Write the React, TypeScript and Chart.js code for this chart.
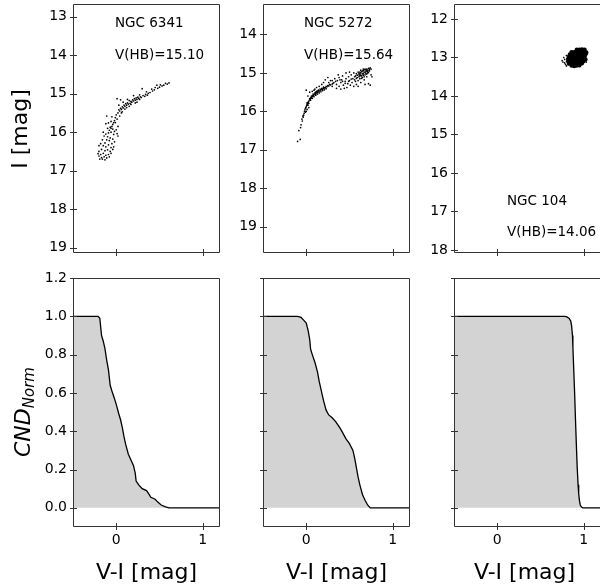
import React, { useEffect, useRef } from 'react';
import { Chart, registerables } from 'chart.js';

Chart.register(...registerables);

const FONT = '"DejaVu Sans", sans-serif';

// ---------- shared axis data ----------
const VI_MIN = -0.5;
const VI_MAX = 1.2;
const VI_TICKS = [0, 1];
const CND_MIN = -0.1;
const CND_MAX = 1.2;
const CND_TICKS = [0, 0.2, 0.4, 0.6, 0.8, 1.0, 1.2];

// ---------- NGC 6341 (top-left) ----------
const RANGE_6341 = [12.67, 19.14];
const TICKS_6341 = [13, 14, 15, 16, 17, 18, 19];
const HB_6341: number[][] = [
  [0.61, 14.72], [0.59, 14.75], [0.57, 14.73], [0.55, 14.78], [0.53, 14.8], [0.51, 14.77], [0.5, 14.83],
  [0.48, 14.86], [0.47, 14.78], [0.45, 14.84], [0.44, 14.9], [0.42, 14.93], [0.41, 14.88], [0.39, 14.97],
  [0.37, 14.99], [0.36, 15.04], [0.34, 15.02], [0.33, 15.07], [0.31, 15.05], [0.3, 14.87], [0.29, 15.1],
  [0.28, 15.08], [0.27, 15.03], [0.26, 15.12], [0.25, 15.09], [0.24, 15.15], [0.23, 15.11], [0.22, 15.17],
  [0.21, 15.13], [0.2, 15.19], [0.19, 15.16], [0.18, 15.22], [0.17, 15.2], [0.16, 15.25], [0.15, 15.18],
  [0.14, 15.27], [0.13, 15.24], [0.12, 15.3], [0.11, 15.26], [0.1, 15.33], [0.09, 15.3], [0.08, 15.37],
  [0.07, 15.34], [0.06, 15.41], [0.05, 15.38], [0.04, 15.45], [0.03, 15.42], [0.02, 15.5], [0.05, 15.16],
  [0.01, 15.13], [0.15, 15.33], [0.1, 15.4], [0.06, 15.5], [0.2, 15.05], [0.24, 15.22],
  [0.0, 15.55], [-0.01, 15.62], [0.01, 15.66], [-0.02, 15.7], [-0.03, 15.75], [-0.04, 15.8], [-0.05, 15.85],
  [-0.06, 15.9], [-0.07, 15.87], [-0.08, 15.95], [-0.11, 15.58], [-0.12, 15.78], [-0.09, 15.76], [-0.04, 15.92],
  [-0.02, 15.98], [0.0, 15.94], [0.01, 16.04], [-0.03, 16.06], [-0.06, 16.0], [-0.09, 16.02], [-0.12, 16.05],
  [-0.14, 16.1], [-0.1, 16.12], [-0.07, 16.15], [-0.04, 16.18], [-0.02, 16.25], [-0.05, 16.3], [-0.08, 16.22],
  [-0.11, 16.2], [-0.13, 16.28], [-0.16, 16.2], [-0.18, 16.3], [-0.2, 16.35], [-0.15, 16.35], [-0.12, 16.38],
  [-0.09, 16.33], [-0.06, 16.4], [-0.03, 16.38], [-0.04, 16.45], [-0.07, 16.5], [-0.1, 16.46], [-0.13, 16.48],
  [-0.17, 16.45], [-0.2, 16.5], [-0.21, 16.56], [-0.18, 16.58], [-0.15, 16.55], [-0.12, 16.6], [-0.09, 16.58],
  [-0.06, 16.55], [-0.08, 16.64], [-0.11, 16.67], [-0.14, 16.64], [-0.17, 16.66], [-0.2, 16.62], [-0.19, 16.7],
  [-0.16, 16.7], [-0.13, 16.72], [-0.05, 15.6], [-0.15, 16.0], [-0.1, 15.9], [0.02, 16.1],
  [0.04, 15.58], [0.07, 15.47], [0.12, 15.36], [0.17, 15.28], [0.22, 15.24], [0.03, 15.3], [0.08, 15.22],
  [0.35, 14.95], [0.27, 15.15], [0.13, 15.15], [-0.01, 15.75], [-0.06, 15.72], [0.02, 15.85],
];
const CND_6341_VI = [-0.5, -0.21, -0.19, -0.17, -0.15, -0.13, -0.11, -0.09, -0.07, -0.05, -0.02, 0.0, 0.03, 0.05, 0.07, 0.09, 0.11, 0.14, 0.17, 0.2, 0.22, 0.23, 0.26, 0.3, 0.35, 0.38, 0.4, 0.45, 0.48, 0.52, 0.57, 0.61, 1.2];
const CND_6341_VAL = [1, 1, 0.99, 0.9, 0.87, 0.83, 0.77, 0.72, 0.64, 0.61, 0.57, 0.54, 0.49, 0.46, 0.42, 0.37, 0.33, 0.28, 0.25, 0.22, 0.18, 0.14, 0.12, 0.1, 0.09, 0.07, 0.055, 0.045, 0.03, 0.015, 0.005, 0, 0];

// ---------- NGC 5272 (top-middle) ----------
const RANGE_5272 = [13.21, 19.68];
const TICKS_5272 = [14, 15, 16, 17, 18, 19];
const HB_5272: number[][] = [
  [-0.1, 16.78], [-0.07, 16.73], [-0.085, 16.5], [-0.065, 16.42], [-0.06, 16.35], [-0.045, 16.25], [-0.05, 16.2],
  [-0.035, 16.15], [-0.03, 16.1], [-0.025, 16.05], [-0.02, 16.0], [-0.015, 15.96], [-0.01, 15.92], [0.0, 15.88],
  [0.005, 15.85], [0.01, 15.82], [0.015, 15.8], [0.02, 15.77], [0.025, 15.75], [0.03, 15.73], [0.04, 15.7],
  [0.045, 15.68], [0.05, 15.66], [0.055, 15.64], [0.06, 15.63], [0.07, 15.61], [0.075, 15.6], [0.08, 15.58],
  [0.09, 15.57], [0.1, 15.55], [0.11, 15.54], [0.12, 15.52], [0.13, 15.5], [0.14, 15.49], [0.15, 15.47],
  [0.16, 15.46], [0.17, 15.44], [0.18, 15.43], [0.19, 15.42], [0.2, 15.4], [0.22, 15.38], [0.24, 15.36],
  [0.26, 15.34], [0.28, 15.31], [0.3, 15.29],
  [0.02, 15.84], [0.03, 15.79], [0.05, 15.71], [0.07, 15.66], [0.09, 15.62], [0.11, 15.58], [0.13, 15.55],
  [0.15, 15.52], [0.17, 15.49], [0.19, 15.46], [0.21, 15.44], [0.23, 15.41], [0.06, 15.6], [0.08, 15.55],
  [0.1, 15.52], [0.12, 15.48], [0.14, 15.45], [0.16, 15.42], [0.18, 15.4], [0.2, 15.37], [0.03, 15.9],
  [-0.01, 16.02], [-0.04, 16.12], [0.0, 16.0], [0.01, 15.95],
  [0.0, 15.45], [0.04, 15.5], [0.07, 15.48], [0.1, 15.42], [0.12, 15.38], [0.15, 15.35], [0.18, 15.3],
  [0.2, 15.25], [0.22, 15.18], [0.25, 15.12], [0.02, 15.6], [0.09, 15.45], [0.26, 15.25], [0.28, 15.2],
  [0.3, 15.2], [0.32, 15.25], [0.33, 15.15], [0.35, 15.3], [0.36, 15.2], [0.38, 15.12], [0.38, 15.35],
  [0.4, 15.25], [0.41, 15.18], [0.42, 15.08], [0.43, 15.32], [0.45, 15.22], [0.46, 15.15], [0.47, 15.38],
  [0.48, 15.28], [0.49, 15.1], [0.5, 15.2], [0.51, 15.32], [0.52, 15.05], [0.53, 15.25], [0.54, 15.15],
  [0.55, 15.35], [0.56, 15.1], [0.57, 15.22], [0.58, 15.02], [0.58, 15.3], [0.59, 15.12], [0.6, 15.2],
  [0.61, 15.05], [0.62, 14.98], [0.62, 15.15], [0.63, 15.25], [0.64, 15.08], [0.65, 14.95], [0.65, 15.12],
  [0.66, 15.02], [0.67, 14.92], [0.67, 15.18], [0.68, 15.05], [0.69, 14.96], [0.7, 14.9], [0.7, 15.1],
  [0.71, 15.0], [0.72, 14.88], [0.73, 14.95], [0.74, 14.87], [0.72, 15.28], [0.74, 15.32], [0.68, 15.3],
  [0.76, 15.1], [0.75, 15.05], [0.6, 15.35], [0.44, 15.4], [0.4, 15.42], [0.35, 15.4], [0.3, 15.35],
  [0.37, 15.05], [0.46, 15.0], [0.5, 14.98], [0.55, 15.0], [0.63, 15.0], [0.66, 14.9], [0.69, 14.92],
  [0.71, 14.93], [0.64, 15.14], [0.61, 15.1], [0.59, 15.06], [0.57, 15.08], [0.6, 14.98], [0.63, 15.06],
  [0.66, 15.06], [0.68, 14.99], [0.7, 15.03], [0.73, 14.9], [0.65, 15.02],
  [0.62, 15.03], [0.64, 14.97], [0.67, 14.98], [0.69, 15.01], [0.71, 14.96], [0.72, 14.99], [0.66, 14.94],
  [0.68, 14.9], [0.61, 15.01], [0.63, 14.93], [0.7, 14.95], [0.73, 14.93], [0.75, 14.9], [0.67, 15.1],
  [0.62, 15.08], [0.58, 15.14], [0.56, 15.18], [0.52, 15.16], [0.49, 15.22], [0.45, 15.27], [0.42, 15.22],
  [0.39, 15.18], [0.34, 15.22], [0.31, 15.27], [0.27, 15.3], [0.25, 15.33], [0.23, 15.35], [0.21, 15.39],
  [0.11, 15.5], [0.13, 15.47], [0.08, 15.6], [0.04, 15.67], [0.01, 15.78], [-0.005, 15.9], [0.06, 15.65],
];
const CND_5272_VI = [-0.5, -0.1, -0.06, -0.03, 0.0, 0.02, 0.04, 0.05, 0.07, 0.1, 0.13, 0.15, 0.17, 0.2, 0.23, 0.26, 0.3, 0.34, 0.37, 0.4, 0.43, 0.46, 0.5, 0.54, 0.56, 0.58, 0.6, 0.62, 0.65, 0.68, 0.71, 0.74, 1.2];
const CND_5272_VAL = [1, 1, 0.995, 0.98, 0.965, 0.93, 0.88, 0.83, 0.8, 0.76, 0.71, 0.66, 0.62, 0.56, 0.51, 0.485, 0.47, 0.45, 0.43, 0.41, 0.385, 0.36, 0.335, 0.3, 0.26, 0.21, 0.16, 0.12, 0.07, 0.04, 0.015, 0, 0];

// ---------- NGC 104 (top-right) ----------
const RANGE_104 = [11.61, 18.08];
const TICKS_104 = [12, 13, 14, 15, 16, 17, 18];
const HB_104_CORE: number[][] = [
  [0.92, 12.8], [0.95, 12.8], [0.98, 12.79], [1.01, 12.8],
  [0.86, 12.86], [0.89, 12.86], [0.92, 12.85], [0.95, 12.86], [0.98, 12.86], [1.01, 12.85], [1.03, 12.87],
  [0.84, 12.92], [0.87, 12.92], [0.9, 12.91], [0.93, 12.92], [0.96, 12.92], [0.99, 12.93], [1.02, 12.92],
  [0.83, 12.98], [0.86, 12.98], [0.89, 12.99], [0.92, 12.98], [0.95, 12.98], [0.98, 12.97], [1.01, 12.98],
  [0.82, 13.04], [0.85, 13.04], [0.88, 13.05], [0.91, 13.04], [0.94, 13.04], [0.97, 13.03], [1.0, 13.04], [1.02, 13.05],
  [0.82, 13.1], [0.85, 13.1], [0.88, 13.11], [0.91, 13.1], [0.94, 13.1], [0.97, 13.1], [1.0, 13.09],
  [0.83, 13.16], [0.86, 13.16], [0.89, 13.17], [0.92, 13.16], [0.95, 13.16], [0.98, 13.15],
  [0.86, 13.21], [0.89, 13.22], [0.92, 13.21], [0.95, 13.2],
];
const HB_104_STRAY: number[][] = [
  [0.78, 13.05], [0.76, 13.12], [0.79, 13.18], [0.77, 13.0], [0.8, 12.95], [0.75, 13.08], [0.78, 13.14],
  [0.8, 13.22], [1.04, 12.9], [1.03, 13.12],
];
const CND_104_VI = [-0.5, 0.77, 0.8, 0.83, 0.85, 0.86, 0.87, 0.875, 0.885, 0.895, 0.905, 0.915, 0.925, 0.935, 0.942, 0.95, 0.96, 0.975, 0.99, 1.2];
const CND_104_VAL = [1, 1, 0.998, 0.99, 0.975, 0.95, 0.9, 0.84, 0.72, 0.6, 0.46, 0.33, 0.21, 0.12, 0.075, 0.04, 0.015, 0.004, 0, 0];

// ---------- layout ----------
type Txt = {
  t: string; x: number; y: number; size: number;
  align?: CanvasTextAlign; base?: CanvasTextBaseline;
  rot?: boolean; italic?: boolean; sub?: string; subSize?: number; subShift?: number;
};

type Spec = {
  left: number; top: number; w: number; h: number;
  yW: number; xH: number; padTop: number; padRight: number;
  kind: 'cmd' | 'cnd';
  yMin: number; yMax: number; yTicks: number[];
  yLabels: boolean; xLabels: boolean;
  datasets: any[];
  texts: Txt[];
};

const COLS = [
  { left: 0, yW: 73, w: 224 },
  { left: 218, yW: 45, w: 196 },
  { left: 409, yW: 45, w: 196 },
];
const TOP_ROW = { top: 0, h: 260, padTop: 4, xH: 7 };
const BOT_ROW = { top: 270, h: 318, padTop: 8, xH: 61 };

const toPts = (arr: number[][]) => arr.map(([x, y]) => ({ x, y }));
const toCurve = (xs: number[], ys: number[]) => xs.map((x, i) => ({ x, y: ys[i] }));

const scatterSet = (pts: number[][], r: number) => ({
  type: 'scatter',
  data: toPts(pts),
  pointRadius: r,
  pointBorderWidth: 0,
  pointBackgroundColor: '#000',
  backgroundColor: '#000',
  borderWidth: 0,
});

const curveSet = (xs: number[], ys: number[]) => ({
  type: 'line',
  data: toCurve(xs, ys),
  borderColor: '#000',
  borderWidth: 1.3,
  backgroundColor: '#d3d3d3',
  fill: 'origin',
  pointRadius: 0,
  tension: 0,
});

const xTitle = (cx: number): Txt => ({ t: 'V-I [mag]', x: cx, y: 579, size: 22, align: 'center', base: 'alphabetic' });

const SPECS: Spec[] = [
  {
    ...COLS[0], ...TOP_ROW, padRight: 4, kind: 'cmd',
    yMin: RANGE_6341[0], yMax: RANGE_6341[1], yTicks: TICKS_6341, yLabels: true, xLabels: false,
    datasets: [scatterSet(HB_6341, 0.85)],
    texts: [
      { t: 'NGC 6341', x: 115, y: 23, size: 13.5, align: 'left', base: 'middle' },
      { t: 'V(HB)=15.10', x: 115, y: 55, size: 13.5, align: 'left', base: 'middle' },
      { t: 'I [mag]', x: 21, y: 129, size: 22, align: 'center', base: 'middle', rot: true },
    ],
  },
  {
    ...COLS[1], ...TOP_ROW, padRight: 4, kind: 'cmd',
    yMin: RANGE_5272[0], yMax: RANGE_5272[1], yTicks: TICKS_5272, yLabels: true, xLabels: false,
    datasets: [scatterSet(HB_5272, 0.85)],
    texts: [
      { t: 'NGC 5272', x: 304, y: 23, size: 13.5, align: 'left', base: 'middle' },
      { t: 'V(HB)=15.64', x: 304, y: 55, size: 13.5, align: 'left', base: 'middle' },
    ],
  },
  {
    ...COLS[2], ...TOP_ROW, padRight: 4, kind: 'cmd',
    yMin: RANGE_104[0], yMax: RANGE_104[1], yTicks: TICKS_104, yLabels: true, xLabels: false,
    datasets: [scatterSet(HB_104_CORE, 2.2), scatterSet(HB_104_STRAY, 0.85)],
    texts: [
      { t: 'NGC 104', x: 507, y: 201, size: 13.5, align: 'left', base: 'middle' },
      { t: 'V(HB)=14.06', x: 507, y: 232, size: 13.5, align: 'left', base: 'middle' },
    ],
  },
  {
    ...COLS[0], ...BOT_ROW, padRight: 4, kind: 'cnd',
    yMin: CND_MIN, yMax: CND_MAX, yTicks: CND_TICKS, yLabels: true, xLabels: true,
    datasets: [curveSet(CND_6341_VI, CND_6341_VAL)],
    texts: [
      xTitle(146.5),
      { t: 'CND', x: 30, y: 457, size: 22, align: 'left', base: 'alphabetic', rot: true, italic: true, sub: 'Norm', subSize: 15, subShift: 4 },
    ],
  },
  {
    ...COLS[1], ...BOT_ROW, padRight: 4, kind: 'cnd',
    yMin: CND_MIN, yMax: CND_MAX, yTicks: CND_TICKS, yLabels: false, xLabels: true,
    datasets: [curveSet(CND_5272_VI, CND_5272_VAL)],
    texts: [xTitle(336.5)],
  },
  {
    ...COLS[2], ...BOT_ROW, padRight: 4, kind: 'cnd',
    yMin: CND_MIN, yMax: CND_MAX, yTicks: CND_TICKS, yLabels: false, xLabels: true,
    datasets: [curveSet(CND_104_VI, CND_104_VAL)],
    texts: [xTitle(524.5)],
  },
];

const FRAME = '#333';

function framePlugin(spec: Spec) {
  return {
    id: 'frameAndText',
    afterDraw(chart: any) {
      const { ctx, chartArea: a, scales } = chart;
      ctx.save();
      ctx.strokeStyle = FRAME;
      ctx.lineWidth = 1;
      const L = Math.round(a.left) + 0.5;
      const R = Math.round(a.right) - 0.5;
      const T = Math.round(a.top) + 0.5;
      const B = Math.round(a.bottom) - 0.5;
      ctx.beginPath();
      ctx.moveTo(L, T); ctx.lineTo(R, T); ctx.lineTo(R, B); ctx.lineTo(L, B); ctx.closePath();
      ctx.stroke();
      // in-out tick marks
      ctx.beginPath();
      for (const t of scales.x.ticks) {
        const px = Math.round(scales.x.getPixelForValue(t.value)) + 0.5;
        ctx.moveTo(px, B - 3.5); ctx.lineTo(px, B + 3.5);
      }
      for (const t of scales.y.ticks) {
        const py = Math.round(scales.y.getPixelForValue(t.value)) + 0.5;
        ctx.moveTo(L - 3.5, py); ctx.lineTo(L + 3.5, py);
      }
      ctx.stroke();
      // texts
      ctx.fillStyle = '#000';
      for (const tx of spec.texts) {
        const x = tx.x - spec.left;
        const y = tx.y - spec.top;
        ctx.save();
        ctx.translate(x, y);
        if (tx.rot) ctx.rotate(-Math.PI / 2);
        ctx.font = `${tx.italic ? 'italic ' : ''}${tx.size}px ${FONT}`;
        ctx.textAlign = tx.align || 'left';
        ctx.textBaseline = tx.base || 'alphabetic';
        ctx.fillText(tx.t, 0, 0);
        if (tx.sub) {
          const w = ctx.measureText(tx.t).width;
          ctx.font = `${tx.italic ? 'italic ' : ''}${tx.subSize}px ${FONT}`;
          ctx.textAlign = 'left';
          ctx.fillText(tx.sub, w, tx.subShift || 0);
        }
        ctx.restore();
      }
      ctx.restore();
    },
  };
}

function buildConfig(spec: Spec): any {
  const tickFont = { family: FONT, size: 14 };
  return {
    type: spec.kind === 'cmd' ? 'scatter' : 'line',
    data: { datasets: spec.datasets },
    options: {
      animation: false,
      responsive: false,
      maintainAspectRatio: false,
      devicePixelRatio: 1,
      events: [],
      layout: { padding: { top: spec.padTop, right: spec.padRight, bottom: 0, left: 0 } },
      plugins: { legend: { display: false }, tooltip: { enabled: false }, title: { display: false } },
      scales: {
        x: {
          type: 'linear',
          position: 'bottom',
          min: VI_MIN,
          max: VI_MAX,
          grid: { display: false, drawTicks: false },
          border: { display: false },
          ticks: {
            display: spec.xLabels,
            padding: 5,
            color: '#000',
            font: tickFont,
            maxRotation: 0,
            callback: (v: number) => String(v),
          },
          afterBuildTicks: (s: any) => { s.ticks = VI_TICKS.map((v) => ({ value: v })); },
          afterFit: (s: any) => { s.height = spec.xH; s.paddingLeft = 0; s.paddingRight = 0; },
        },
        y: {
          type: 'linear',
          position: 'left',
          min: spec.yMin,
          max: spec.yMax,
          reverse: spec.kind === 'cmd',
          grid: { display: false, drawTicks: false },
          border: { display: false },
          ticks: {
            display: spec.yLabels,
            padding: 6,
            color: '#000',
            font: tickFont,
            callback: (v: number) => (spec.kind === 'cmd' ? String(Math.round(v)) : v.toFixed(1)),
          },
          afterBuildTicks: (s: any) => { s.ticks = spec.yTicks.map((v) => ({ value: v })); },
          afterFit: (s: any) => { s.width = spec.yW; s.paddingTop = 0; s.paddingBottom = 0; },
        },
      },
    },
    plugins: [framePlugin(spec)],
  };
}

function Panel({ spec }: { spec: Spec }) {
  const ref = useRef<HTMLCanvasElement>(null);
  useEffect(() => {
    if (!ref.current) return;
    const chart = new Chart(ref.current, buildConfig(spec));
    return () => chart.destroy();
  }, [spec]);
  return (
    <canvas
      ref={ref}
      width={spec.w}
      height={spec.h}
      style={{ position: 'absolute', left: spec.left, top: spec.top, width: spec.w, height: spec.h }}
    />
  );
}

export default function App() {
  return (
    <div style={{ position: 'fixed', left: 0, top: 0, width: 600, height: 588, overflow: 'hidden', background: '#fff' }}>
      {SPECS.map((s, i) => (
        <Panel key={i} spec={s} />
      ))}
    </div>
  );
}
